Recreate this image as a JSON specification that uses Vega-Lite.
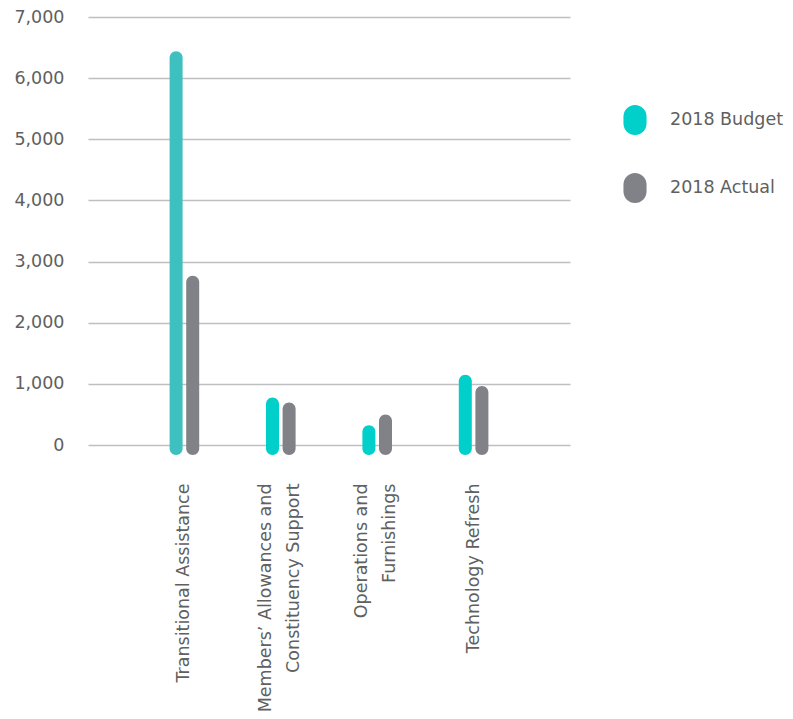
{
  "$schema": "https://vega.github.io/schema/vega-lite/v6.json",
  "autosize": "none",
  "width": 482,
  "height": 428,
  "padding": {"left": 88, "top": 17, "right": 223, "bottom": 274},
  "background": "white",
  "config": {
    "view": {"stroke": null},
    "font": "DejaVu Sans",
    "axis": {"labelFont": "DejaVu Sans", "labelColor": "#606060", "labelFontSize": 17.5}
  },
  "data": {
    "values": [
      {"category": "Transitional Assistance", "series": "2018 Budget", "value": 6440},
      {"category": "Transitional Assistance", "series": "2018 Actual", "value": 2770},
      {"category": "Members’ Allowances and Constituency Support", "series": "2018 Budget", "value": 775},
      {"category": "Members’ Allowances and Constituency Support", "series": "2018 Actual", "value": 695},
      {"category": "Operations and Furnishings", "series": "2018 Budget", "value": 325},
      {"category": "Operations and Furnishings", "series": "2018 Actual", "value": 500},
      {"category": "Technology Refresh", "series": "2018 Budget", "value": 1150},
      {"category": "Technology Refresh", "series": "2018 Actual", "value": 965}
    ]
  },
  "mark": {"type": "bar", "cornerRadius": 6.5, "width": 13},
  "encoding": {
    "x": {
      "field": "category",
      "type": "nominal",
      "sort": null,
      "scale": {"paddingInner": 0.69, "paddingOuter": 0.845},
      "axis": {
        "title": null,
        "domain": false,
        "ticks": false,
        "labelAngle": -90,
        "labelPadding": 38,
        "labelLineHeight": 28,
        "labelLimit": 0,
        "labelOffset": {"expr": "indexof(datum.value, ' and ') >= 0 ? -15 : 0"},
        "labelExpr": "datum.label == 'Members’ Allowances and Constituency Support' ? ['Members’ Allowances and', 'Constituency Support'] : datum.label == 'Operations and Furnishings' ? ['Operations and', 'Furnishings'] : datum.label"
      }
    },
    "xOffset": {
      "field": "series",
      "type": "nominal",
      "sort": ["2018 Budget", "2018 Actual"],
      "scale": {"paddingInner": 0.2, "paddingOuter": 0}
    },
    "y": {
      "field": "value",
      "type": "quantitative",
      "scale": {"domain": [0, 7000], "nice": false},
      "axis": {
        "title": null,
        "domain": false,
        "ticks": false,
        "values": [0, 1000, 2000, 3000, 4000, 5000, 6000, 7000],
        "format": ",.0f",
        "labelPadding": 24,
        "gridColor": "#bfbfc2",
        "gridWidth": 1.5
      }
    },
    "y2": {"datum": -165},
    "color": {
      "condition": {"test": "datum.category == 'Transitional Assistance' && datum.series == '2018 Budget'", "value": "#3ebfc0"},
      "field": "series",
      "type": "nominal",
      "sort": ["2018 Budget", "2018 Actual"],
      "scale": {"domain": ["2018 Budget", "2018 Actual"], "range": ["#00cfca", "#808287"]},
      "legend": {
        "title": null,
        "orient": "none",
        "legendX": 532,
        "legendY": 88,
        "padding": 0,
        "symbolType": "M -0.77 -0.23 A 0.77 0.77 0 0 1 0.77 -0.23 L 0.77 0.23 A 0.77 0.77 0 0 1 -0.77 0.23 Z",
        "symbolSize": 900,
        "symbolStrokeWidth": 0,
        "symbolOpacity": 1,
        "labelFont": "DejaVu Sans",
        "labelFontSize": 17.5,
        "labelColor": "#606060",
        "labelOffset": 20,
        "rowPadding": 38
      }
    }
  }
}
